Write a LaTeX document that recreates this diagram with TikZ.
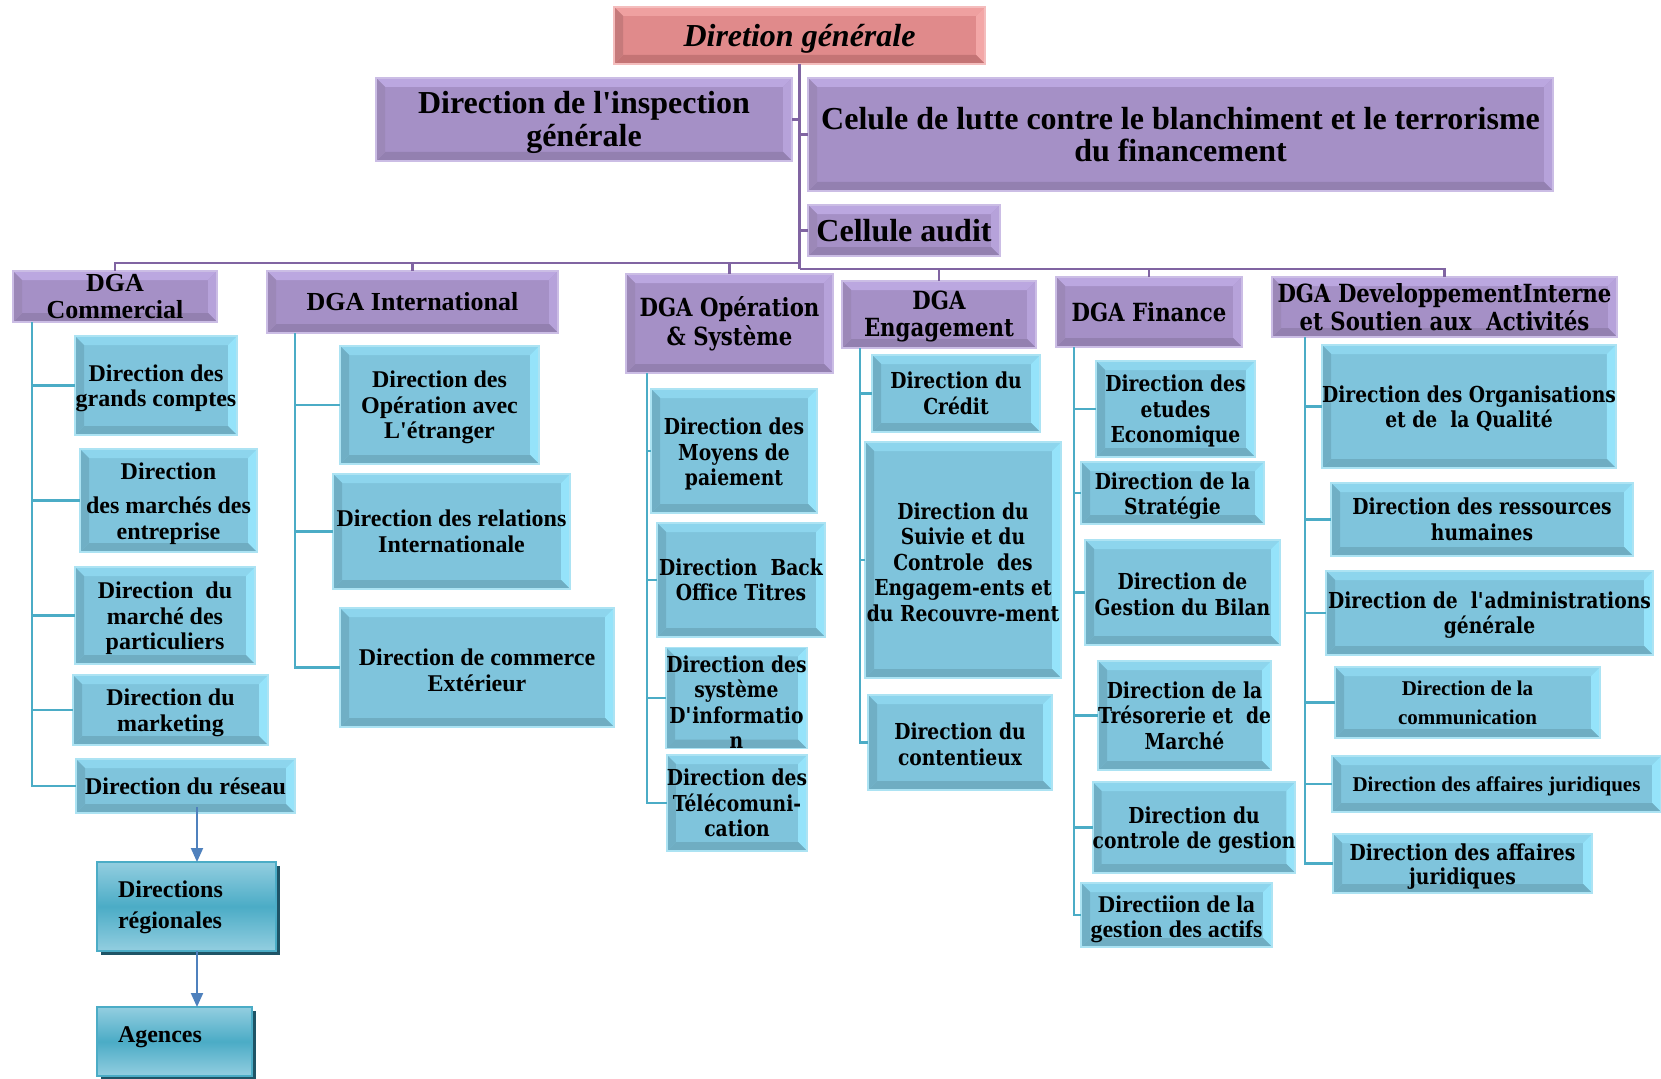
\documentclass[tikz,border=0pt]{standalone}
\usepackage{fontspec}
\setmainfont{Liberation Serif}
\newfontfamily\cent[FakeStretch=0.85]{DejaVu Serif}
\usetikzlibrary{calc,shadows,arrows.meta}
\definecolor{pface}{HTML}{A590C6}
\definecolor{ptop}{HTML}{BBA7E0}
\definecolor{pleft}{HTML}{9C88B8}
\definecolor{pright}{HTML}{B6A2DA}
\definecolor{pbot}{HTML}{9380B0}
\definecolor{pbord}{HTML}{CBBDE5}
\definecolor{bface}{HTML}{7FC4DC}
\definecolor{btop}{HTML}{8DD5ED}
\definecolor{bleft}{HTML}{70AFC5}
\definecolor{bright}{HTML}{95E3FA}
\definecolor{bbot}{HTML}{6FADC2}
\definecolor{bbord}{HTML}{ACE3F3}
\definecolor{rface}{HTML}{E08A8B}
\definecolor{rtop}{HTML}{EFA0A0}
\definecolor{rleft}{HTML}{C67A7B}
\definecolor{rright}{HTML}{F3A7A7}
\definecolor{rbot}{HTML}{C47475}
\definecolor{rbord}{HTML}{F4BDBD}
\definecolor{sedge}{HTML}{93CEE0}
\definecolor{smid}{HTML}{4BACC6}
\definecolor{sshadow}{HTML}{1F5466}
\definecolor{plinec}{HTML}{8064A2}
\definecolor{blinec}{HTML}{4BACC6}
\definecolor{arrc}{HTML}{4F81BD}
\newdimen\bw \bw=9pt
\newcommand\bvl[4]{%
  \fill[#1] (path picture bounding box.north west) -- (path picture bounding box.north east) -- ([xshift=-\bw,yshift=-\bw]path picture bounding box.north east) -- ([xshift=\bw,yshift=-\bw]path picture bounding box.north west) -- cycle;
  \fill[#3] (path picture bounding box.north east) -- (path picture bounding box.south east) -- ([xshift=-\bw,yshift=\bw]path picture bounding box.south east) -- ([xshift=-\bw,yshift=-\bw]path picture bounding box.north east) -- cycle;
  \fill[#4] (path picture bounding box.south east) -- (path picture bounding box.south west) -- ([xshift=\bw,yshift=\bw]path picture bounding box.south west) -- ([xshift=-\bw,yshift=\bw]path picture bounding box.south east) -- cycle;
  \fill[#2] (path picture bounding box.south west) -- (path picture bounding box.north west) -- ([xshift=\bw,yshift=-\bw]path picture bounding box.north west) -- ([xshift=\bw,yshift=\bw]path picture bounding box.south west) -- cycle;
}
\newcommand\myfs[2]{\fontsize{#1}{#2}\selectfont\bfseries}
\newcommand\fst[1][3pt]{\rule{0pt}{\dimexpr0.8em+#1\relax}}
\tikzset{
  bx/.style={rectangle, inner sep=0pt, outer sep=0pt, align=center, text=black, line width=1.8pt},
  pbox/.style={bx, fill=pface, draw=pbord, path picture={\bvl{ptop}{pleft}{pright}{pbot}}},
  bbox/.style={bx, fill=bface, draw=bbord, path picture={\bvl{btop}{bleft}{bright}{bbot}}},
  rbox/.style={bx, fill=rface, draw=rbord, path picture={\bvl{rtop}{rleft}{rright}{rbot}}},
  sbox/.style={rectangle, inner sep=0pt, outer sep=0pt, align=left, text=black, draw=smid, line width=1.5pt,
     top color=sedge, bottom color=sedge, middle color=smid,
     drop shadow={shadow xshift=4pt, shadow yshift=-4pt, fill=sshadow, opacity=1}},
  pline/.style={draw=plinec, line width=2.6pt},
  bline/.style={draw=blinec, line width=2.5pt},
  arr/.style={draw=arrc, line width=2pt, -{Triangle[length=14pt,width=12pt]}},
  tT/.style={font=\myfs{24}{25.5}},
  tC/.style={font=\cent\myfs{22}{25.5}},
}
\begin{document}
\begin{tikzpicture}[x=1pt,y=-1pt]
\useasboundingbox (0,0) rectangle (1661,1078);
% top level
\node[rbox, minimum width=371pt, minimum height=57pt, font=\myfs{32}{34}\itshape] (dg) at (799.5,35.5) {\fst Diretion générale};
\node[pbox, minimum width=416pt, minimum height=83pt, font=\myfs{32}{33}] (dig) at (584,119.5) {\fst Direction de l\textquotesingle inspection\\générale};
\node[pbox, minimum width=745pt, minimum height=113pt, font=\myfs{32}{32}] (cel) at (1180.5,134.5) {Celule de lutte contre le blanchiment et le terrorisme\\du financement};
\node[pbox, minimum width=192pt, minimum height=51pt, font=\myfs{32}{32}] (aud) at (904,230.5) {Cellule audit};
% DGA
\node[pbox, minimum width=204pt, minimum height=51pt, font=\myfs{26}{27}] (dgac) at (115,296.5) {DGA\\Commercial};
\node[pbox, minimum width=291pt, minimum height=62pt, font=\myfs{26}{27}] (dgai) at (412.5,302) {DGA International};
\node[pbox, minimum width=207pt, minimum height=99pt, font=\cent\myfs{25}{29}] (dgao) at (729.5,323.5) {DGA Opération\\\& Système};
\node[pbox, minimum width=194pt, minimum height=67pt, font=\cent\myfs{25}{27}] (dgae) at (939,314.5) {\fst DGA\\Engagement};
\node[pbox, minimum width=186pt, minimum height=70pt, font=\cent\myfs{25}{27}] (dgaf) at (1149,312) {DGA Finance};
\node[pbox, minimum width=345pt, minimum height=60pt, font=\cent\myfs{25}{28}] (dgad) at (1444.5,307) {DGA DeveloppementInterne\\et Soutien aux\ \ Activités};
% Commercial
\node[bbox, tT, minimum width=162pt, minimum height=99pt] (gc) at (156,385.5) {\fst Direction des\\grands comptes};
\node[bbox, tT, minimum width=177pt, minimum height=103pt] (me) at (168.5,500.5) {\fst Direction\\[9pt]des marchés des\\entreprise};
\node[bbox, tT, minimum width=180pt, minimum height=97pt] (mp) at (165,615.5) {\fst Direction\ \ du\\marché des\\particuliers};
\node[bbox, tT, minimum width=195pt, minimum height=70pt] (mk) at (170.5,710) {\fst Direction du\\marketing};
\node[bbox, tT, minimum width=219pt, minimum height=54pt] (rs) at (185.5,786) {Direction du réseau};
\node[sbox, tT, minimum width=179pt, minimum height=89pt, text width=137pt, font=\myfs{24}{31}] (dr) at (186.5,906.5) {\fst[0pt]Directions\\régionales};
\node[sbox, tT, minimum width=155pt, minimum height=69pt, text width=113pt] (ag) at (174.5,1041.5) {\raisebox{4pt}[\height][\depth]{Agences}};
% International
\node[bbox, tT, minimum width=199pt, minimum height=118pt] (oe) at (439.5,405) {\fst Direction des\\Opération avec\\L\textquotesingle étranger};
\node[bbox, tT, minimum width=237pt, minimum height=115pt] (ri) at (451.5,531.5) {Direction des relations\\Internationale};
\node[bbox, tT, minimum width=274pt, minimum height=119pt] (ce) at (477,667.5) {\fst Direction de commerce\\Extérieur};
% Operation
\node[bbox, tC, minimum width=166pt, minimum height=124pt] (mo) at (734,451) {\fst[5pt]Direction des\\Moyens de\\paiement};
\node[bbox, tC, minimum width=168pt, minimum height=114pt] (bo) at (741,580) {Direction\ \ Back\\Office Titres};
\node[bbox, tC, minimum width=138pt, minimum height=96pt] (tc) at (737,803) {Direction des\\Télécomuni-\\cation};
\node[bbox, tC, minimum width=141pt, minimum height=90pt] (si) at (736.5,698) {\fst[7pt]Direction des\\système\\D\textquotesingle informatio\\n};
% Engagement
\node[bbox, tC, minimum width=168pt, minimum height=77pt] (cr) at (956,393.5) {Direction du\\Crédit};
\node[bbox, tC, minimum width=196pt, minimum height=236pt] (su) at (963,560) {\fst Direction du\\Suivie et du\\Controle\ \ des\\Engagem-ents et\\du Recouvre-ment};
\node[bbox, tC, minimum width=184pt, minimum height=95pt] (co) at (960,742.5) {\fst Direction du\\contentieux};
% Finance
\node[bbox, tC, minimum width=159pt, minimum height=96pt] (et) at (1175.5,409) {\fst Direction des\\etudes\\Economique};
\node[bbox, tC, minimum width=183pt, minimum height=62pt] (st) at (1172.5,493) {\fst[5pt]Direction de la\\Stratégie};
\node[bbox, tC, minimum width=195pt, minimum height=105pt] (gb) at (1182.5,592.5) {\fst Direction de\\Gestion du Bilan};
\node[bbox, tC, minimum width=173pt, minimum height=109pt] (tr) at (1184.5,715.5) {Direction de la\\Trésorerie et\ \ de\\Marché};
\node[bbox, tC, minimum width=196pt, minimum height=91pt] (cg) at (1194,827.5) {\fst[4pt]Direction du\\controle de gestion};
\node[bbox, tT, minimum width=191pt, minimum height=64pt, font=\myfs{24}{25}] (ga) at (1176.5,915) {\fst[7pt]Directiion de la\\gestion des actifs};
% Developpement
\node[bbox, tC, minimum width=288pt, minimum height=123pt] (og) at (1469,406.5) {\fst Direction des Organisations\\et de\ \ la Qualité};
\node[bbox, tC, minimum width=302pt, minimum height=73pt] (rh) at (1482,519.5) {Direction des ressources\\humaines};
\node[bbox, tC, minimum width=327pt, minimum height=84pt] (ad) at (1489.5,613) {\fst Direction de\ \ l\textquotesingle administrations\\générale};
\node[bbox, minimum width=265pt, minimum height=71pt, font=\myfs{21}{29}] (cm) at (1467.5,702.5) {Direction de la\\communication};
\node[bbox, minimum width=329pt, minimum height=56pt, font=\myfs{21}{24}] (aj1) at (1496.5,784) {\fst Direction des affaires juridiques};
\node[bbox, tC, minimum width=259pt, minimum height=59pt, font=\cent\myfs{22}{24}] (aj2) at (1462.5,863.5) {\fst[5pt]Direction des affaires\\juridiques};
% top connectors
\path (dg.south) ++(0,205) coordinate (tbot);
\path (dg.south) ++(0,199) coordinate (busL);
\draw[pline] (dg.south) -- (tbot);
\draw[pline] (dig.east) -- (dig.east -| dg.south);
\draw[pline] (cel.west) -- (cel.west -| dg.south);
\draw[pline] (aud.west) -- (aud.west -| dg.south);
\draw[pline] (dgac.north) |- (busL);
\draw[pline] (dgai.north) |- (busL);
\draw[pline] (dgao.north) |- (busL);
\draw[pline] (dgae.north) |- (tbot);
\draw[pline] (dgaf.north) |- (tbot);
\draw[pline] (dgad.north) |- (tbot);
% child trunks
\coordinate (kC) at ([xshift=19pt]dgac.south west);
\coordinate (kI) at ([xshift=28pt]dgai.south west);
\coordinate (kO) at ([xshift=21pt]dgao.south west);
\coordinate (kE) at ([xshift=18pt]dgae.south west);
\coordinate (kF) at ([xshift=18pt]dgaf.south west);
\coordinate (kD) at ([xshift=33pt]dgad.south west);
\foreach \c in {gc,me,mp,mk,rs} {\draw[bline] (kC) |- (\c.west);}
\foreach \c in {oe,ri,ce} {\draw[bline] (kI) |- (\c.west);}
\foreach \c in {mo,bo,si,tc} {\draw[bline] (kO) |- (\c.west);}
\foreach \c in {cr,su,co} {\draw[bline] (kE) |- (\c.west);}
\foreach \c in {et,st,gb,tr,cg,ga} {\draw[bline] (kF) |- (\c.west);}
\foreach \c in {og,rh,ad,cm,aj1,aj2} {\draw[bline] (kD) |- (\c.west);}
% arrows
\coordinate (ax) at ([xshift=10.5pt]dr.north);
\draw[arr] ([yshift=6pt]rs.south -| ax) -- (ax);
\draw[arr] (dr.south -| ax) -- (ag.north -| ax);
\end{tikzpicture}
\end{document}
